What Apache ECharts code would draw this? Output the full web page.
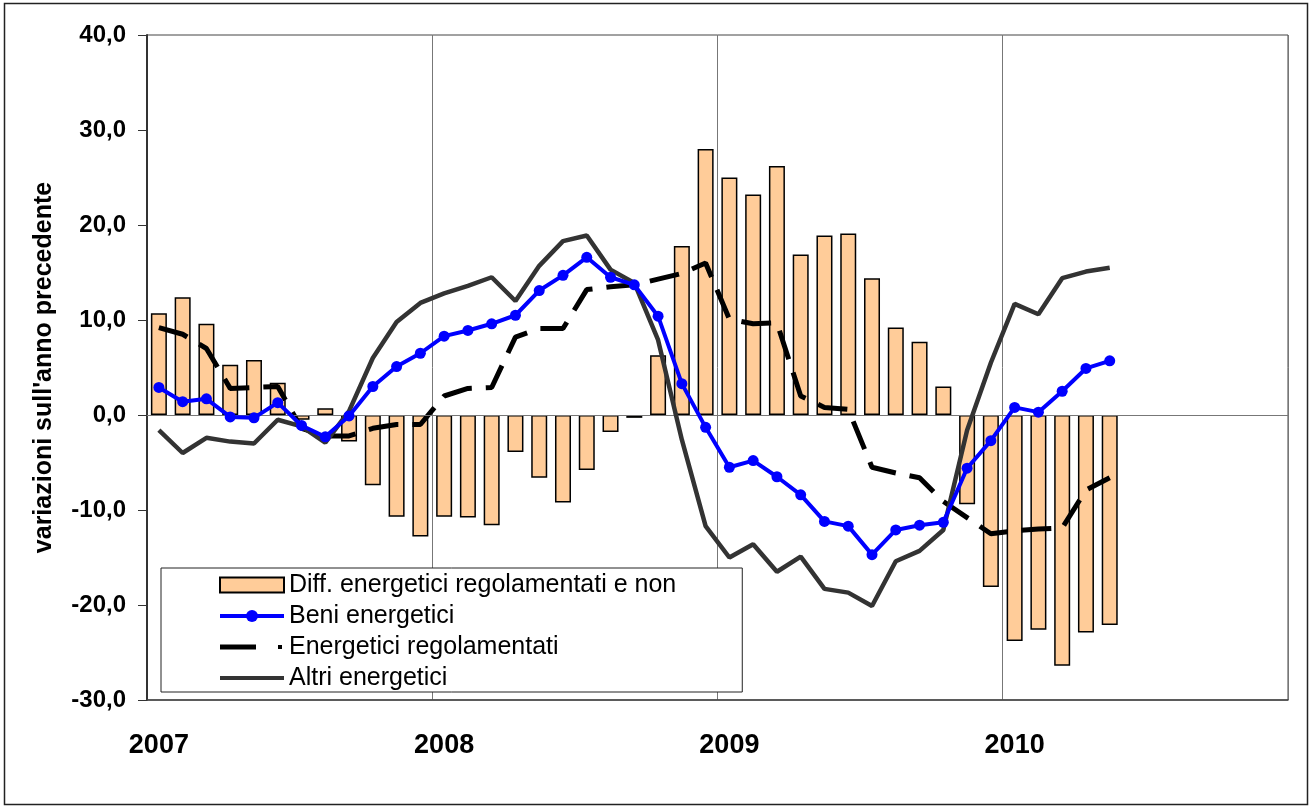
<!DOCTYPE html>
<html>
<head>
<meta charset="utf-8">
<title>Beni energetici</title>
<script src="https://cdn.jsdelivr.net/npm/echarts@6.0.0/dist/echarts.min.js"></script>
<style>
  html, body { margin: 0; padding: 0; background: #fff; }
  #chart { width: 1311px; height: 809px; }
</style>
</head>
<body>
<div id="chart"></div>
<script>
// anni sull'asse x (12 mesi ciascuno)
const years = ['2007', '2008', '2009', '2010']
const yTicks = [-30, -20, -10, 0, 10, 20, 30, 40]

// variazioni mensili, gen 2007 - mag 2010
const diffReg = [10.7, 12.4, 9.6, 5.3, 5.8, 3.4, -0.5, 0.7, -2.8, -7.4,
  -10.7, -12.8, -10.7, -10.8, -11.6, -3.9, -6.6, -9.2, -5.8, -1.8,
  -0.3, 6.3, 17.8, 28.0, 25.0, 23.2, 26.2, 16.9, 18.9, 19.1,
  14.4, 9.2, 7.7, 3.0, -9.4, -18.1, -23.8, -22.6, -26.4, -22.9,
  -22.1]
const beni = [2.9, 1.4, 1.7, -0.2, -0.3, 1.3, -1.1, -2.3, -0.1, 3.0,
  5.1, 6.5, 8.3, 8.9, 9.6, 10.5, 13.1, 14.7, 16.6, 14.5,
  13.7, 10.4, 3.3, -1.3, -5.5, -4.8, -6.5, -8.4, -11.2, -11.7,
  -14.7, -12.1, -11.6, -11.3, -5.6, -2.7, 0.8, 0.3, 2.5, 4.9,
  5.7]
const regolamentati = [9.2, 8.5, 7.0, 2.8, 2.9, 3.0, -1.4, -2.2, -2.2, -1.4,
  -1.0, -1.0, 2.0, 2.8, 2.9, 8.2, 9.1, 9.1, 13.2, 13.5,
  13.7, 14.3, 14.9, 16.0, 10.1, 9.6, 9.7, 2.0, 0.8, 0.6,
  -5.5, -6.1, -6.6, -9.1, -10.8, -12.5, -12.2, -12.0, -11.9, -7.9,
  -6.6]
const altri = [-1.6, -4.0, -2.4, -2.8, -3.0, -0.5, -1.2, -2.9, 0.4, 6.0,
  9.8, 11.8, 12.8, 13.6, 14.5, 12.0, 15.7, 18.3, 18.9, 15.3,
  13.9, 7.9, -2.6, -11.7, -15.0, -13.6, -16.5, -14.9, -18.3, -18.7,
  -20.1, -15.4, -14.3, -12.1, -1.6, 5.5, 11.7, 10.6, 14.4, 15.1,
  15.5]

const categories = []
years.forEach(y => {
  for (let m = 1; m <= 12; m++) categories.push(y + '-' + (m < 10 ? '0' + m : m))
})

const font = "'Liberation Sans', Arial, sans-serif"

// icone della legenda (le M iniziali fissano il riquadro 64x15)
const iconDash = 'path://M0,0 M64,15 M0,5 L36,5 L36,10 L0,10 Z M58,5.5 L62,5.5 L62,9.5 L58,9.5 Z'
const iconLine = 'path://M0,0 M64,15 M0,5.5 L64,5.5 L64,9.5 L0,9.5 Z'

const option = {
  animation: false,
  backgroundColor: '#fff',
  graphic: [{
    type: 'rect',
    shape: { x: 4.5, y: 3.5, width: 1303, height: 801 },
    style: { fill: 'none', stroke: '#222', lineWidth: 1.5 },
    silent: true
  }],
  grid: {
    left: 147,
    right: 23,
    top: 35,
    bottom: 109,
    show: true,
    borderColor: '#444',
    borderWidth: 1
  },
  legend: {
    left: 161,
    top: 568,
    orient: 'vertical',
    backgroundColor: '#fff',
    borderColor: '#222',
    borderWidth: 1,
    padding: [4, 66, 1, 57],
    itemWidth: 64,
    itemHeight: 15,
    itemGap: 5,
    lineStyle: { width: 'inherit' },
    textStyle: {
      fontFamily: font,
      fontSize: 25,
      lineHeight: 26,
      color: '#000'
    },
    data: [
      { name: 'Diff. energetici regolamentati e non', icon: 'rect' },
      { name: 'Beni energetici' },
      { name: 'Energetici regolamentati', icon: iconDash },
      { name: 'Altri energetici', icon: iconLine }
    ]
  },
  xAxis: {
    type: 'category',
    data: categories,
    boundaryGap: true,
    axisLine: { onZero: false, lineStyle: { color: '#444', width: 1.5 } },
    axisTick: { show: false },
    axisLabel: {
      interval: (index) => index % 12 === 0,
      formatter: (value) => value.substring(0, 4),
      margin: 32,
      fontFamily: font,
      fontWeight: 'bold',
      fontSize: 27,
      color: '#000'
    },
    splitLine: {
      show: true,
      interval: (index) => index % 12 === 0,
      lineStyle: { color: '#777', width: 1 }
    }
  },
  yAxis: {
    type: 'value',
    min: yTicks[0],
    max: yTicks[yTicks.length - 1],
    interval: 10,
    name: "variazioni sull'anno precedente",
    nameLocation: 'middle',
    nameGap: 90,
    nameTextStyle: {
      fontFamily: font,
      fontWeight: 'bold',
      fontSize: 25,
      color: '#000'
    },
    axisLine: { show: true, lineStyle: { color: '#333', width: 2 } },
    axisTick: { show: true, inside: false, length: 9, lineStyle: { color: '#333' } },
    splitLine: { show: false },
    axisLabel: {
      margin: 21,
      fontFamily: font,
      fontWeight: 'bold',
      fontSize: 24,
      color: '#000',
      formatter: (v) => v.toFixed(1).replace('.', ',')
    }
  },
  series: [
    {
      name: 'Diff. energetici regolamentati e non',
      type: 'bar',
      data: diffReg,
      barWidth: 16,
      z: 2,
      itemStyle: { color: '#ffcc99', borderColor: '#000', borderWidth: 1.5 },
      markLine: {
        silent: true,
        symbol: 'none',
        label: { show: false },
        lineStyle: { color: '#777', width: 1, type: 'solid' },
        data: [{ yAxis: 0 }]
      }
    },
    {
      name: 'Beni energetici',
      type: 'line',
      data: beni,
      z: 6,
      symbol: 'circle',
      symbolSize: 11,
      color: '#0000ff',
      lineStyle: { color: '#0000ff', width: 4 },
      itemStyle: { color: '#0000ff' }
    },
    {
      name: 'Energetici regolamentati',
      type: 'line',
      data: regolamentati,
      z: 4,
      symbol: 'none',
      color: '#000',
      lineStyle: { color: '#000', width: 5, type: [30, 14], cap: 'butt' }
    },
    {
      name: 'Altri energetici',
      type: 'line',
      data: altri,
      z: 5,
      symbol: 'none',
      color: '#333',
      lineStyle: { color: '#333', width: 4.5 }
    }
  ]
}

var myChart = echarts.init(document.getElementById('chart'), null, { renderer: 'canvas' })
myChart.setOption(option)
</script>
</body>
</html>
